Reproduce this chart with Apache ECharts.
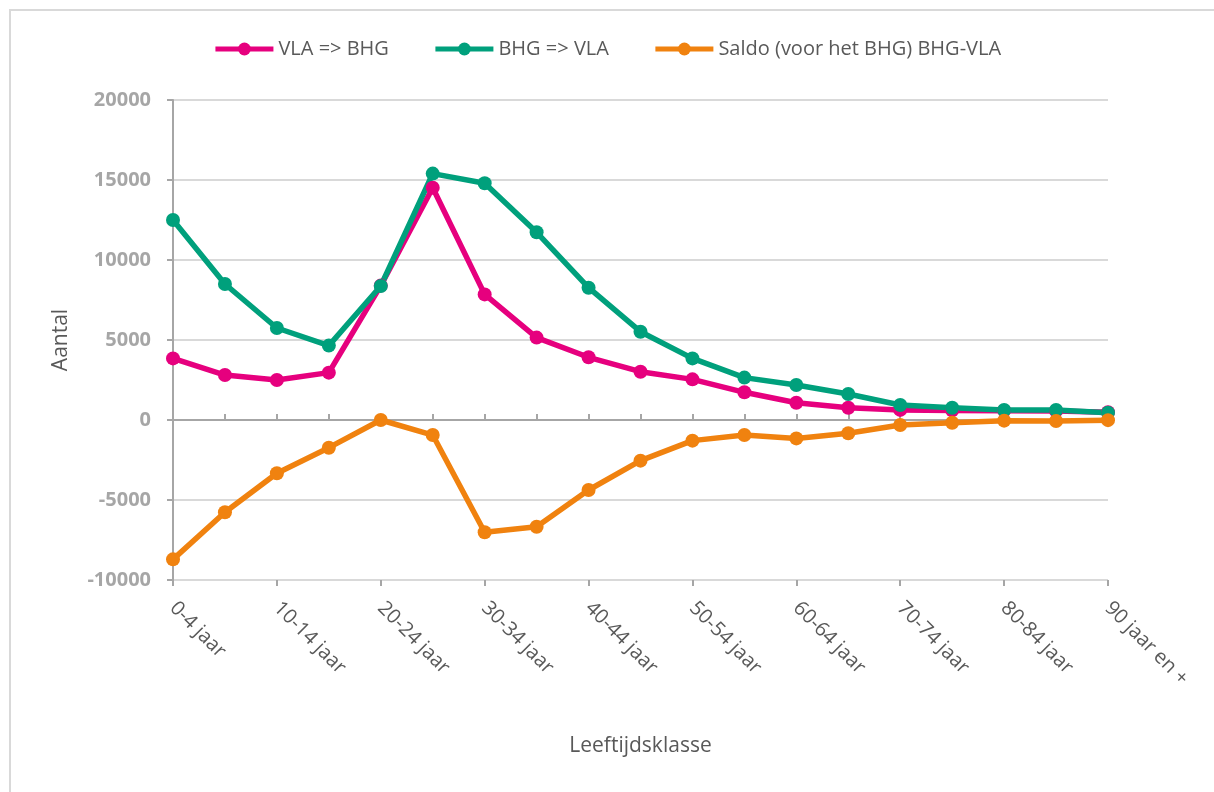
<!DOCTYPE html>
<html>
<head>
<meta charset="utf-8">
<title>Migratie per leeftijdsklasse</title>
<script src="https://cdn.jsdelivr.net/npm/echarts@6/dist/echarts.min.js"></script>
<style>
  html, body { margin: 0; padding: 0; background: #ffffff; }
  #chart { width: 1214px; height: 792px; }
</style>
</head>
<body>
<div id="chart"></div>
<script>
// Age classes (5-year bands)
const categories = [
  '0-4 jaar', '5-9 jaar', '10-14 jaar', '15-19 jaar', '20-24 jaar',
  '25-29 jaar', '30-34 jaar', '35-39 jaar', '40-44 jaar', '45-49 jaar',
  '50-54 jaar', '55-59 jaar', '60-64 jaar', '65-69 jaar', '70-74 jaar',
  '75-79 jaar', '80-84 jaar', '85-89 jaar', '90 jaar en +'
];

// Migration flows per age class
const vlaToBhg = [3850, 2810, 2500, 2960, 8400, 14520, 7850, 5150, 3920, 3020,
                  2540, 1730, 1080, 770, 630, 600, 585, 570, 480];
const bhgToVla = [12500, 8500, 5750, 4650, 8375, 15400, 14800, 11730, 8270, 5520,
                  3850, 2650, 2190, 1625, 940, 770, 625, 625, 460];
const saldo = [-8710, -5770, -3330, -1730, 0, -940, -7020, -6670, -4375, -2540,
               -1290, -940, -1150, -830, -310, -170, -40, -60, -10];

const yTicks = { min: -10000, max: 20000, interval: 5000 };

const seriesNames = ['VLA => BHG', 'BHG => VLA', 'Saldo (voor het BHG) BHG-VLA'];
const seriesColors = ['#e6007e', '#00a07c', '#f0820f'];

const textGrey = '#595959';
const axisGrey = '#a6a6a6';
const gridGrey = '#d9d9d9';

function lineSeries(name, data, color) {
  return {
    name: name,
    type: 'line',
    xAxisIndex: 0,
    data: data,
    symbol: 'circle',
    symbolSize: 14,
    lineStyle: { width: 5.5, color: color },
    itemStyle: { color: color },
    emphasis: { disabled: true },
    z: 3
  };
}

const chart = echarts.init(document.getElementById('chart'), null, { renderer: 'canvas' });

chart.setOption({
  animation: false,
  backgroundColor: '#ffffff',
  graphic: [{
    type: 'rect',
    shape: { x: 10, y: 10, width: 1260, height: 840 },
    style: { fill: 'none', stroke: gridGrey, lineWidth: 2 },
    silent: true,
    z: -10
  }],
  legend: {
    top: 34,
    left: 'center',
    itemWidth: 58,
    itemHeight: 16,
    itemGap: 44,
    lineStyle: { width: 5 },
    textStyle: { color: textGrey, fontSize: 20, fontFamily: 'Open Sans' },
    data: seriesNames
  },
  grid: { left: 173, right: 106, top: 100, bottom: 212, containLabel: false },
  xAxis: [
    {
      // label axis along the bottom of the plot
      type: 'category',
      data: categories,
      boundaryGap: false,
      position: 'bottom',
      axisLine: { show: false, onZero: false },
      axisTick: { show: false },
      axisLabel: {
        interval: 1,
        rotate: -45,
        margin: 25,
        color: textGrey,
        fontSize: 20,
        fontFamily: 'Open Sans'
      },
      splitLine: { show: false },
      name: 'Leeftijdsklasse',
      nameLocation: 'middle',
      nameGap: 156,
      nameTextStyle: { color: textGrey, fontSize: 21, fontFamily: 'Open Sans' }
    },
    {
      // zero line with small upward ticks at every class
      type: 'category',
      data: categories,
      boundaryGap: false,
      position: 'bottom',
      axisLine: { show: true, onZero: true, lineStyle: { color: axisGrey, width: 2 } },
      axisTick: { show: true, inside: true, interval: 0, length: 6, lineStyle: { color: axisGrey, width: 2 } },
      axisLabel: { show: false },
      splitLine: { show: false }
    },
    {
      // downward ticks at every second class
      type: 'category',
      data: categories,
      boundaryGap: false,
      position: 'bottom',
      axisLine: { show: false, onZero: true },
      axisTick: { show: true, inside: false, interval: 1, length: 6, lineStyle: { color: axisGrey, width: 2 } },
      axisLabel: { show: false },
      splitLine: { show: false }
    }
  ],
  yAxis: {
    type: 'value',
    min: yTicks.min,
    max: yTicks.max,
    interval: yTicks.interval,
    axisLine: { show: true, lineStyle: { color: axisGrey, width: 2 } },
    axisTick: { show: true, length: 6, lineStyle: { color: axisGrey, width: 2 } },
    axisLabel: {
      margin: 22,
      color: axisGrey,
      fontSize: 20,
      fontWeight: 'bold',
      fontFamily: 'Open Sans',
      formatter: function (v) { return String(v); }
    },
    splitLine: { show: true, lineStyle: { color: gridGrey, width: 2 } },
    name: 'Aantal',
    nameLocation: 'middle',
    nameGap: 101,
    nameTextStyle: { color: textGrey, fontSize: 21, fontFamily: 'Open Sans' }
  },
  series: [
    lineSeries(seriesNames[0], vlaToBhg, seriesColors[0]),
    lineSeries(seriesNames[1], bhgToVla, seriesColors[1]),
    lineSeries(seriesNames[2], saldo, seriesColors[2])
  ]
});
</script>
</body>
</html>
